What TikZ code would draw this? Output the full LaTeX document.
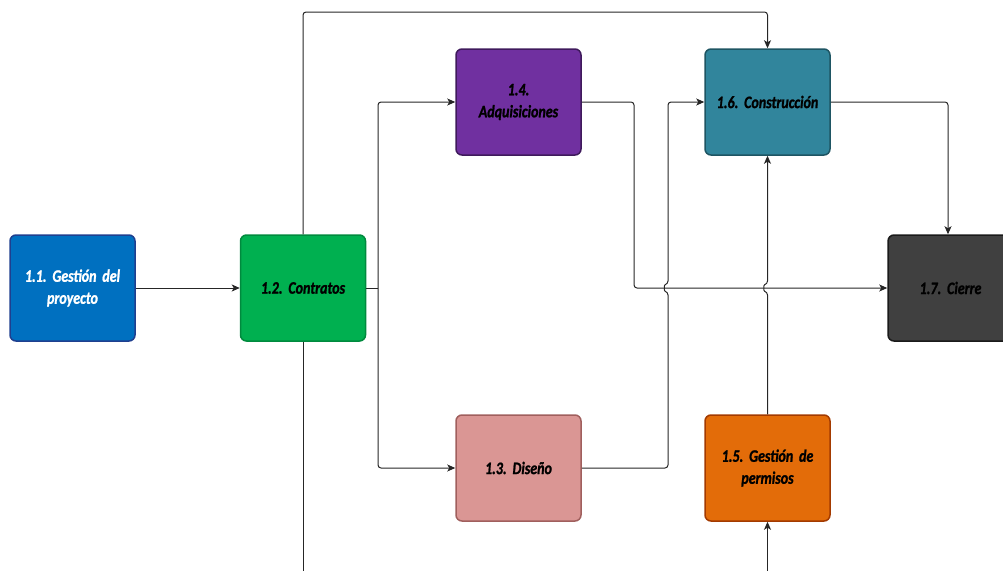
\documentclass[tikz,border=0pt]{standalone}
\usepackage{fontspec}
\setmainfont{Carlito}[FakeStretch=0.8, BoldItalicFeatures={FakeBold=1.2}]
\usetikzlibrary{arrows.meta}
\definecolor{c11}{HTML}{0070C0}\definecolor{d11}{HTML}{1F3F8F}
\definecolor{c12}{HTML}{00B050}\definecolor{d12}{HTML}{008A3E}
\definecolor{c14}{HTML}{7030A0}\definecolor{d14}{HTML}{3F1A5C}
\definecolor{c16}{HTML}{31859C}\definecolor{d16}{HTML}{1E5563}
\definecolor{c17}{HTML}{404040}\definecolor{d17}{HTML}{1A1A1A}
\definecolor{c13}{HTML}{DA9694}\definecolor{d13}{HTML}{A05F5D}
\definecolor{c15}{HTML}{E36C09}\definecolor{d15}{HTML}{A33A00}
\definecolor{ln}{HTML}{262626}
\tikzset{
  box/.style={draw, line width=1.5pt, rounded corners=6pt, minimum width=125pt, minimum height=106pt,
    inner sep=0pt, align=center, text width=115pt, font=\fontsize{17.5}{22}\selectfont\bfseries\itshape\frenchspacing},
  conn/.style={draw=ln, line width=1pt, rounded corners=3pt},
  arr/.style={conn, -{Stealth[length=8pt,width=7pt,inset=2pt]}}
}
\begin{document}
\begin{tikzpicture}[x=1pt,y=-1pt]
\useasboundingbox (0,0) rectangle (1003,570);
\clip (0,0) rectangle (1003,570);
\node[box, fill=c11, draw=d11, text=white] (n11) at (72.5,288) {1.1. Gestión del\\proyecto};
\node[box, fill=c12, draw=d12] (n12) at (303,288) {1.2. Contratos};
\node[box, fill=c14, draw=d14] (n14) at (518.5,102) {1.4.\\Adquisiciones};
\node[box, fill=c16, draw=d16] (n16) at (767.5,102) {1.6. Construcción};
\node[box, fill=c17, draw=d17] (n17) at (950.5,288) {1.7. Cierre};
\node[box, fill=c13, draw=d13] (n13) at (518.5,468) {1.3. Diseño};
\node[box, fill=c15, draw=d15] (n15) at (767.5,468) {1.5. Gestión de\\permisos};
\coordinate (b1) at (303,575);
\coordinate (b2) at (767.5,575);
\coordinate (top) at (535,12);
\coordinate (j1) at (378,288);
\coordinate (j2) at (634,288);
\coordinate (j3) at (668,468);
\coordinate (j4) at (948,102);
% connectors
\draw[arr] (n11.east) -- (n12.west);
\draw[arr] (n12.north) |- (top) -| (n16.north);
\draw[conn] (n12.south) -- (b1);
\draw[conn] (n12.east) -- (j1);
\draw[arr] (j1) |- (n14.west);
\draw[arr] (j1) |- (n13.west);
\draw[arr] (n14.east) -| (j2) -- (n17.west);
\draw[arr] (n13.east) -- (j3) -- (668,292) .. controls (664,291) and (664,285) .. (668,284) |- (n16.west);
\draw[arr] (n15.north) -- (767.5,292) .. controls (763.5,291) and (763.5,285) .. (767.5,284) -- (n16.south);
\draw[arr] (b2) -- (n15.south);
\draw[arr] (n16.east) -- (j4) -- (j4 |- n17.north);
\end{tikzpicture}
\end{document}
